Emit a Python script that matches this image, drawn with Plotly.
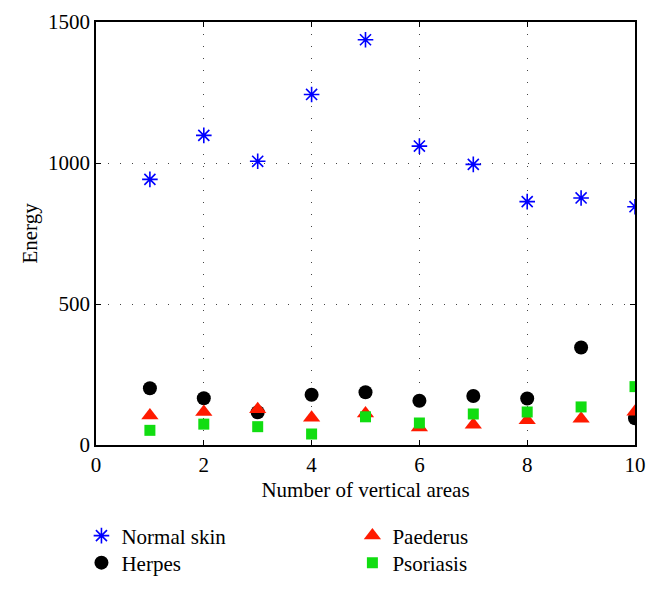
import plotly.graph_objects as go

areas = [1, 2, 3, 4, 5, 6, 7, 8, 9, 10]
normal_skin = [942, 1098, 1006, 1243, 1437, 1060, 995, 863, 876, 845]
herpes = [201, 166, 116, 178, 187, 157, 174, 165, 346, 95]
paederus = [105, 117, 127, 97, 112, 62, 72, 88, 93, 118]
psoriasis = [52, 74, 65, 39, 100, 78, 110, 117, 135, 207]

x_ticks = [0, 2, 4, 6, 8, 10]
y_ticks = [0, 500, 1000, 1500]

FONT = "Liberation Serif, Times New Roman, serif"
FS = 21

fig = go.Figure()
fig.add_trace(go.Scatter(x=areas, y=normal_skin, mode="markers", name="Normal skin",
                         marker=dict(symbol="asterisk-open", size=13, color="#0000FF",
                                     line=dict(color="#0000FF", width=1.6)),
                         legend="legend"))
fig.add_trace(go.Scatter(x=areas, y=herpes, mode="markers", name="Herpes",
                         marker=dict(symbol="circle", size=14, color="#000000"),
                         legend="legend2"))
fig.add_trace(go.Scatter(x=areas, y=paederus, mode="markers", name="Paederus",
                         marker=dict(symbol="triangle-up", size=15, color="#FF1A00"),
                         legend="legend3"))
fig.add_trace(go.Scatter(x=areas, y=psoriasis, mode="markers", name="Psoriasis",
                         marker=dict(symbol="square", size=11, color="#11DD11"),
                         legend="legend4"))

axis_common = dict(showline=True, linecolor="black", linewidth=1.5, mirror="ticks",
                   ticks="inside", ticklen=5, tickcolor="black", tickwidth=1.2,
                   showgrid=True, gridcolor="#444444", griddash="1px,11px", gridwidth=1.2,
                   zeroline=False, automargin=False,
                   tickfont=dict(family=FONT, size=FS, color="black"))

fig.update_xaxes(range=[0, 10], tickvals=x_ticks, ticktext=[str(v) for v in x_ticks],
                 title=dict(text="Number of vertical areas", font=dict(family=FONT, size=FS, color="black"), standoff=6),
                 **axis_common)
fig.update_yaxes(range=[0, 1500], tickvals=y_ticks, ticktext=[str(v) for v in y_ticks],
                 title=dict(text="Energy", font=dict(family=FONT, size=FS, color="black"), standoff=5),
                 **axis_common)

legend_common = dict(font=dict(family=FONT, size=FS, color="black"), bgcolor="rgba(0,0,0,0)",
                     orientation="v", xanchor="left", yanchor="middle",
                     itemsizing="trace", xref="paper", yref="paper")

row1, row2 = -0.215, -0.279
col1, col2 = -0.027, 0.4757

fig.update_layout(
    width=658, height=591,
    font=dict(family=FONT, size=FS, color="black"),
    margin=dict(l=88, r=31, t=14, b=154),
    plot_bgcolor="white", paper_bgcolor="white",
    showlegend=True,
    legend=dict(x=col1, y=row1, **legend_common),
    legend2=dict(x=col1, y=row2, **legend_common),
    legend3=dict(x=col2, y=row1, **legend_common),
    legend4=dict(x=col2, y=row2, **legend_common),
)

fig.write_html("out.html")
